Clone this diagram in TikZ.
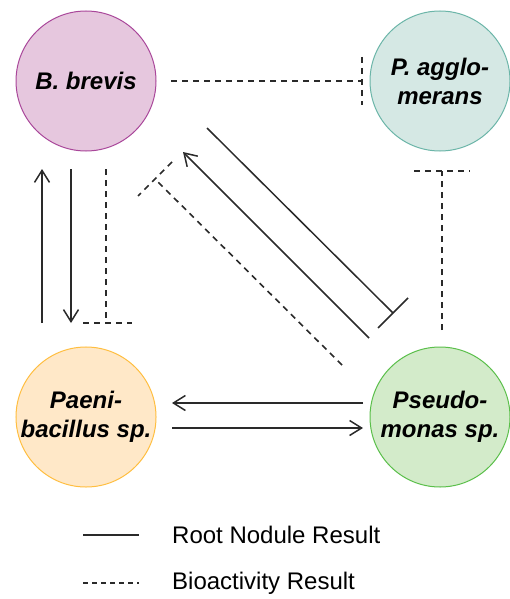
\documentclass[tikz,border=0pt]{standalone}
\usepackage{fontspec}
\setmainfont{Liberation Sans}
\usetikzlibrary{arrows.meta,calc}

\definecolor{pinkfill}{HTML}{E6C7DE}
\definecolor{pinkline}{HTML}{A9479A}
\definecolor{tealfill}{HTML}{D5E8E4}
\definecolor{tealline}{HTML}{6BB5A8}
\definecolor{orangefill}{HTML}{FFE8C8}
\definecolor{orangeline}{HTML}{FFBE40}
\definecolor{greenfill}{HTML}{D3EBCA}
\definecolor{greenline}{HTML}{5ABF4A}
\definecolor{linegray}{HTML}{2A2A2A}

\tikzset{
  species/.style={circle, minimum size=140pt, inner sep=0pt, line width=1pt,
    align=center, font=\fontsize{24}{29}\selectfont\bfseries\itshape},
  rootline/.style={draw=linegray, line width=1.5pt},
  bioline/.style={draw=linegray, line width=1.6pt, dash pattern=on 6pt off 5pt},
  promote/.style={-{Straight Barb[length=12pt,width=15pt,line width=1.5pt]}},
  legendtext/.style={anchor=west, font=\fontsize{24}{29}\selectfont, inner sep=0pt},
}

\begin{document}
\begin{tikzpicture}[x=1pt, y=-1pt]
  \useasboundingbox (0,0) rectangle (510,599);

  % species
  \node[species, fill=pinkfill, draw=pinkline] (bb) at (86,81) {B. brevis};
  \node[species, fill=tealfill, draw=tealline] (pag) at (440,81) {P. agglo-\\merans};
  \node[species, fill=orangefill, draw=orangeline] (pae) at (86,417) {Paeni-\\bacillus sp.};
  \node[species, fill=greenfill, draw=greenline] (pse) at (440,417) {Pseudo-\\monas sp.};

  % end points of the connectors
  \coordinate (bbE) at ($(bb.center)+(85,0)$);
  \coordinate (pagW) at ($(pag.center)+(-78,0)$);
  \coordinate (bbS1) at ($(bb.center)+(-44,88)$);
  \coordinate (paeN1) at ($(pae.center)+(-44,-94)$);
  \coordinate (bbS2) at ($(bb.center)+(-15,88)$);
  \coordinate (paeN2) at ($(pae.center)+(-15,-94)$);
  \coordinate (bbS3) at ($(bb.center)+(20,88)$);
  \coordinate (paeN3) at ($(pae.center)+(20,-94)$);
  \coordinate (pagS) at ($(pag.center)+(2,90)$);
  \coordinate (pseN) at ($(pse.center)+(2,-87)$);
  \coordinate (pseNW1) at ($(pse.center)+(-71,-79)$);
  \coordinate (bbSE1) at ($(bb.center)+(97,71)$);
  \coordinate (bbSE2) at ($(bb.center)+(121,47)$);
  \coordinate (pseNW2) at ($(pse.center)+(-47,-104)$);
  \coordinate (pseNW3) at ($(pse.center)+(-98,-52)$);
  \coordinate (bbSE3) at ($(bb.center)+(69,98)$);
  \coordinate (pseW1) at ($(pse.center)+(-77,-14)$);
  \coordinate (paeE1) at ($(pae.center)+(86,-14)$);
  \coordinate (paeE2) at ($(pae.center)+(86,11)$);
  \coordinate (pseW2) at ($(pse.center)+(-77,11)$);

  % B. brevis -| P. agglomerans (bioactivity)
  \draw[bioline] (bbE) -- (pagW);
  \draw[bioline] ($(pagW)+(0,-24)$) -- ($(pagW)+(0,24)$);

  % B. brevis <-> Paenibacillus (root nodule)
  \draw[rootline, promote] (paeN1) -- (bbS1);
  \draw[rootline, promote] (bbS2) -- (paeN2);

  % B. brevis -| Paenibacillus (bioactivity)
  \draw[bioline] (bbS3) -- (paeN3);
  \draw[bioline] ($(paeN3)+(-23,0)$) -- ($(paeN3)+(26,0)$);

  % Pseudomonas -> B. brevis (root nodule)
  \draw[rootline, promote] (pseNW1) -- (bbSE1);

  % B. brevis -| Pseudomonas (root nodule)
  \draw[rootline] (bbSE2) -- (pseNW2);
  \draw[rootline] ($(pseNW2)+(-15,15)$) -- ($(pseNW2)+(15,-15)$);

  % Pseudomonas -| B. brevis (bioactivity)
  \draw[bioline] (pseNW3) -- (bbSE3);
  \draw[bioline] ($(bbSE3)+(17,-17)$) -- ($(bbSE3)+(-17,17)$);

  % Pseudomonas -| P. agglomerans (bioactivity)
  \draw[bioline] (pseN) -- (pagS);
  \draw[bioline] ($(pagS)+(-28,0)$) -- ($(pagS)+(28,0)$);

  % Paenibacillus <-> Pseudomonas (root nodule)
  \draw[rootline, promote] (pseW1) -- (paeE1);
  \draw[rootline, promote] (paeE2) -- (pseW2);

  % legend
  \coordinate (l1a) at (83,535);
  \coordinate (l1b) at (139,535);
  \coordinate (l2a) at (83,583);
  \coordinate (l2b) at (139,583);
  \draw[rootline] (l1a) -- (l1b);
  \draw[bioline, dash pattern=on 5pt off 4pt] (l2a) -- (l2b);
  \node[legendtext] (leg1) at (172,535) {Root Nodule Result};
  \node[legendtext] (leg2) at (172,583) {Bioactivity Result};
\end{tikzpicture}
\end{document}
